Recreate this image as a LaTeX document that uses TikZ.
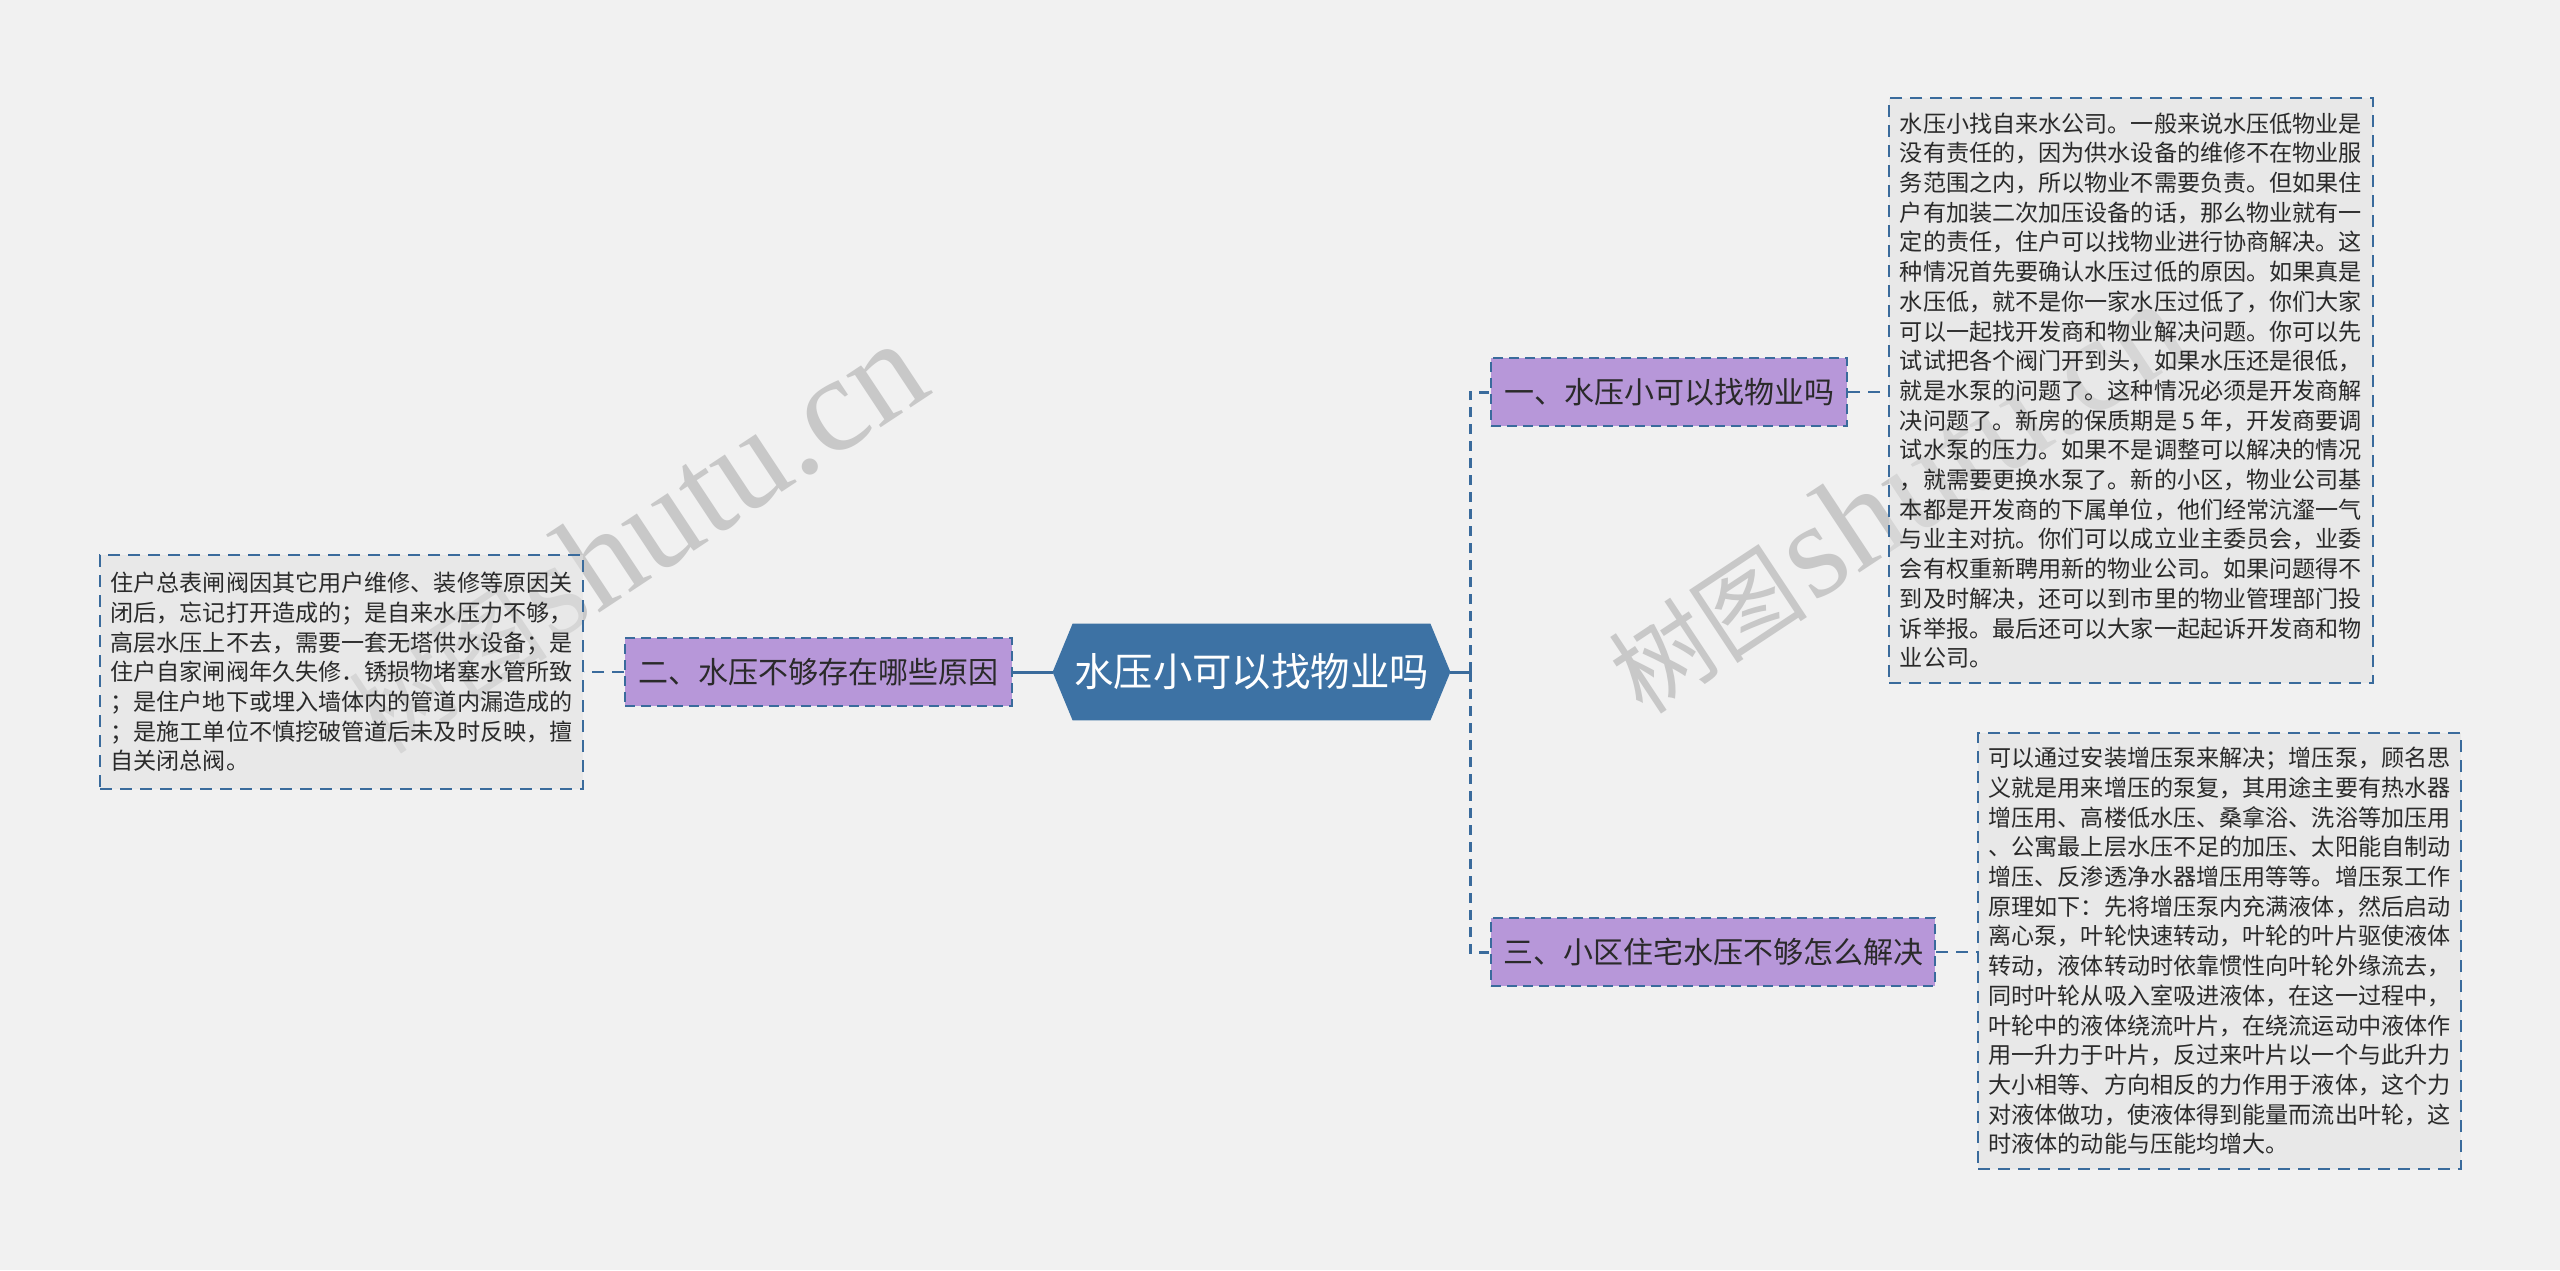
\documentclass[tikz,border=0pt]{standalone}
\usepackage{fontspec}
\setmainfont{Noto Sans CJK SC}
\newfontfamily\wmserif{Liberation Serif}
\usetikzlibrary{backgrounds}
\definecolor{bgc}{HTML}{F1F1F1}
\definecolor{boxc}{HTML}{E2E2E2}
\definecolor{linec}{HTML}{3A6B9C}
\definecolor{purp}{HTML}{B797D9}
\definecolor{cblue}{HTML}{3D72A4}
\definecolor{txt}{HTML}{2A2A2A}
\definecolor{wm}{HTML}{C8C8C8}
\begin{document}
\begin{tikzpicture}[x=0.5pt,y=-0.5pt,
  textbox/.style={draw=linec, line width=1pt, dash pattern=on 6pt off 4pt, fill=boxc, fill opacity=0.55, text opacity=1, draw opacity=1, align=left, inner sep=0pt, text=txt, font=\fontsize{11.55pt}{14.85pt}\selectfont},
  topic/.style={draw=linec, line width=1pt, dash pattern=on 5pt off 3pt, fill=purp, text=txt, font=\fontsize{15pt}{18pt}\selectfont, inner sep=0pt, minimum height=34pt},
  conn/.style={draw=linec, line width=1.5pt},
  dconn/.style={draw=linec, line width=1.5pt, dash pattern=on 5pt off 3.5pt},
  tconn/.style={draw=linec, line width=1pt, dash pattern=on 6pt off 4pt},
  wmark/.style={text=wm, rotate=33.5, anchor=base west, inner sep=0pt}
]
\begin{scope}[on background layer]
\fill[bgc] (0,0) rectangle (2560,1270);
\end{scope}
\useasboundingbox (0,0) rectangle (2560,1270);

% watermarks
\node[wmark] (wm1) at (383,757) {{\fontsize{50pt}{50pt}\selectfont 树图} {\wmserif\fontsize{68pt}{68pt}\selectfont shutu.cn}};
\node[wmark] (wm2) at (1643,717) {{\fontsize{50pt}{50pt}\selectfont 树图} {\wmserif\fontsize{68pt}{68pt}\selectfont shutu.cn}};

% central topic
\node[minimum width=198.5pt, minimum height=48pt, inner sep=0pt, text=white, font=\fontsize{19.7pt}{22pt}\selectfont] (c) at (1251.5,672) {水压小可以找物业吗};
\begin{scope}[on background layer]
\fill[cblue] ([xshift=10pt]c.north west) -- ([xshift=-10pt]c.north east) -- (c.east) -- ([xshift=-10pt]c.south east) -- ([xshift=10pt]c.south west) -- (c.west) -- cycle;
\end{scope}

% main topics
\node[topic, minimum width=193.5pt] (n2) at (818.5,672) {二、水压不够存在哪些原因};
\node[topic, minimum width=178pt] (n1) at (1669,392) {一、水压小可以找物业吗};
\node[topic, minimum width=222pt] (n3) at (1713,952) {三、小区住宅水压不够怎么解决};

% text boxes
\node[textbox, minimum width=241.5pt, minimum height=117pt] (lbox) at (341.5,672) {住户总表闸阀因其它用户维修、装修等原因关\\闭后，忘记打开造成的；是自来水压力不够，\\高层水压上不去，需要一套无塔供水设备；是\\住户自家闸阀年久失修．锈损物堵塞水管所致\\；是住户地下或埋入墙体内的管道内漏造成的\\；是施工单位不慎挖破管道后未及时反映，擅\\自关闭总阀。};

\node[textbox, minimum width=242pt, minimum height=292.5pt] (tbox) at (2131,390.5) {水压小找自来水公司。一般来说水压低物业是\\没有责任的，因为供水设备的维修不在物业服\\务范围之内，所以物业不需要负责。但如果住\\户有加装二次加压设备的话，那么物业就有一\\定的责任，住户可以找物业进行协商解决。这\\种情况首先要确认水压过低的原因。如果真是\\水压低，就不是你一家水压过低了，你们大家\\可以一起找开发商和物业解决问题。你可以先\\试试把各个阀门开到头，如果水压还是很低，\\就是水泵的问题了。这种情况必须是开发商解\\决问题了。新房的保质期是 5 年，开发商要调\\试水泵的压力。如果不是调整可以解决的情况\\，就需要更换水泵了。新的小区，物业公司基\\本都是开发商的下属单位，他们经常沆瀣一气\\与业主对抗。你们可以成立业主委员会，业委\\会有权重新聘用新的物业公司。如果问题得不\\到及时解决，还可以到市里的物业管理部门投\\诉举报。最后还可以大家一起起诉开发商和物\\业公司。};

\node[textbox, minimum width=241.5pt, minimum height=218pt] (bbox) at (2219.5,951) {可以通过安装增压泵来解决；增压泵，顾名思\\义就是用来增压的泵复，其用途主要有热水器\\增压用、高楼低水压、桑拿浴、洗浴等加压用\\、公寓最上层水压不足的加压、太阳能自制动\\增压、反渗透净水器增压用等等。增压泵工作\\原理如下：先将增压泵内充满液体，然后启动\\离心泵，叶轮快速转动，叶轮的叶片驱使液体\\转动，液体转动时依靠惯性向叶轮外缘流去，\\同时叶轮从吸入室吸进液体，在这一过程中，\\叶轮中的液体绕流叶片，在绕流运动中液体作\\用一升力于叶片，反过来叶片以一个与此升力\\大小相等、方向相反的力作用于液体，这个力\\对液体做功，使液体得到能量而流出叶轮，这\\时液体的动能与压能均增大。};

% connectors
\coordinate (jr) at (1470,672);
\draw[conn] (c.west) -- (n2.east);
\draw[tconn] (n2.west) -- (lbox.east);
\draw[conn] (c.east) -- (jr);
\draw[dconn] (jr) |- (n1.west);
\draw[dconn] (jr) |- (n3.west);
\draw[tconn] (n1.east) -- (n1.east -| tbox.west);
\draw[tconn] (n3.east) -- (n3.east -| bbox.west);
\end{tikzpicture}
\end{document}
